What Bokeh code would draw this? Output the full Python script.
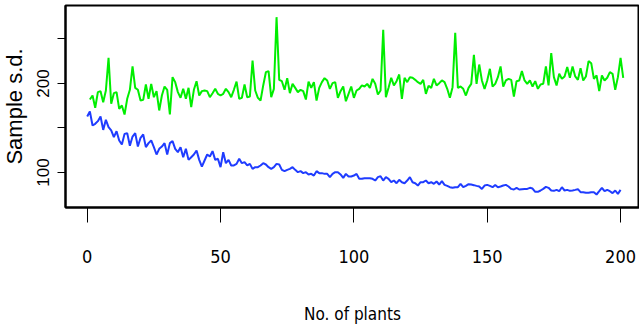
from bokeh.plotting import figure
from bokeh.models import Range1d, FixedTicker
from bokeh.embed import file_html
from bokeh.resources import INLINE

# Green series: x = 1..201
green_sd = [
    182.0, 186.5, 172.7, 190.3, 191.4, 179.0, 192.1, 228.8, 177.2, 189.1,
    190.3, 171.5, 175.3, 165.2, 182.8, 192.9, 219.1, 195.1, 192.9, 180.9,
    181.6, 198.9, 182.8, 199.6, 184.6, 191.4, 169.7, 186.5, 196.6, 192.9,
    165.2, 207.1, 201.5, 190.3, 183.9, 194.0, 182.8, 195.1, 173.4, 192.9,
    202.6, 186.5, 191.4, 192.1, 191.4, 184.6, 189.1, 194.0, 188.4, 186.5,
    188.4, 194.0, 190.3, 184.6, 192.9, 202.2, 182.8, 183.9, 198.9, 184.6,
    185.4, 225.8, 192.1, 183.9, 180.9, 197.8, 212.7, 213.9, 184.6, 194.0,
    274.5, 204.1, 202.6, 192.9, 206.0, 189.1, 199.6, 195.1, 190.3, 192.9,
    191.4, 182.0, 202.2, 195.1, 201.5, 180.9, 195.1, 201.5, 206.0, 203.4,
    194.0, 200.4, 201.5, 183.9, 191.4, 196.6, 180.1, 188.4, 196.6, 183.9,
    192.1, 194.0, 197.8, 196.6, 199.6, 195.1, 205.2, 199.6, 187.6, 192.1,
    260.3, 184.6, 195.1, 206.4, 197.8, 202.6, 210.1, 182.8, 206.4, 201.5,
    207.1, 206.4, 204.1, 201.5, 199.6, 204.1, 188.4, 197.4, 195.1, 205.2,
    197.8, 200.4, 203.4, 201.5, 194.0, 183.9, 195.9, 256.9, 195.1, 196.6,
    194.0, 186.5, 195.1, 199.6, 232.2, 199.6, 221.3, 203.4, 194.0, 203.4,
    216.5, 196.6, 199.6, 207.1, 219.1, 196.6, 203.4, 205.2, 204.1, 185.4,
    202.6, 203.4, 213.9, 203.4, 199.6, 203.4, 196.6, 202.6, 194.0, 198.9,
    199.6, 219.1, 197.8, 234.1, 207.1, 197.8, 210.9, 205.2, 207.9, 218.4,
    206.4, 219.1, 207.9, 204.1, 217.2, 203.4, 207.9, 225.1, 222.8, 205.2,
    209.0, 191.4, 209.0, 203.4, 206.4, 212.7, 210.9, 192.9, 207.1, 228.8,
    206.4,
]
green_x = list(range(1, len(green_sd) + 1))

# Blue series: x = 0..200
blue_sd = [
    162.9, 168.5, 152.8, 154.7, 157.7, 162.9, 147.9, 159.2, 150.9, 147.2,
    139.7, 146.4, 136.0, 131.5, 143.4, 144.2, 130.0, 140.4, 144.2, 129.2,
    139.0, 142.7, 128.5, 133.0, 136.0, 128.5, 120.2, 126.6, 129.2, 133.0,
    120.2, 133.0, 135.2, 126.6, 122.8, 128.5, 117.2, 126.6, 114.2, 117.2,
    120.2, 124.7, 114.2, 106.7, 113.5, 120.2, 118.0, 124.0, 114.2, 115.4,
    106.0, 122.8, 110.5, 114.2, 107.9, 107.9, 109.7, 115.4, 110.5, 111.6,
    107.9, 109.7, 104.1, 106.0, 106.0, 107.9, 110.5, 109.0, 106.0, 104.1,
    106.0, 109.7, 109.0, 103.0, 101.5, 103.0, 104.1, 106.0, 103.0, 100.4,
    101.5, 99.3, 100.4, 97.8, 98.5, 96.6, 101.5, 99.3, 99.3, 98.5,
    98.5, 94.8, 98.5, 100.4, 100.4, 97.8, 94.0, 98.5, 95.5, 95.5,
    96.6, 98.5, 92.9, 92.9, 93.6, 93.6, 93.6, 92.9, 91.0, 94.8,
    95.9, 91.0, 94.8, 92.9, 89.1, 91.0, 88.0, 91.8, 89.1, 88.0,
    91.0, 94.8, 89.1, 88.0, 85.4, 89.1, 89.1, 91.0, 88.0,
    89.1, 87.3, 89.9, 86.5, 90.3, 86.1, 85.0, 83.5, 82.8, 83.5, 83.5,
    87.3, 83.5, 85.0, 86.9, 86.5, 85.8, 85.0, 84.3, 81.6, 85.4,
    86.1, 85.0, 83.5, 86.1, 83.5, 84.3, 85.4, 86.1, 84.3, 81.6,
    80.9, 82.8, 80.9, 81.3, 81.6, 81.6, 82.8, 82.0, 78.3, 78.3,
    79.8, 81.6, 83.9, 82.8, 79.8, 79.4, 80.5, 79.0, 83.5, 79.8,
    80.5, 79.4, 79.8, 80.5, 81.3, 77.9, 77.9, 77.2, 77.2, 77.9,
    77.9, 75.3, 79.0, 82.8, 79.0, 80.5, 79.0, 76.8, 79.8, 76.0, 80.5,
]
blue_x = list(range(0, len(blue_sd)))

x_ticks = [0, 50, 100, 150, 200]
y_ticks = [100, 150, 200, 250]
y_tick_labels = {100: "100", 150: "", 200: "200", 250: ""}

NARROW = "Liberation Sans Narrow, DejaVu Sans Condensed, Liberation Sans, sans-serif"

p = figure(
    width=642, height=329,
    output_backend="svg", toolbar_location=None,
    x_range=Range1d(-8.14, 207.1), y_range=Range1d(60.7, 287.6),
    min_border_left=68, min_border_right=0, min_border_top=5, min_border_bottom=122,
    background_fill_color="white", border_fill_color="white",
)
p.margin = (0, 0, 0, -3)
p.grid.visible = False
p.outline_line_color = "black"
p.outline_line_width = 2

p.line(green_x, green_sd, line_color="#00ee00", line_width=2)
p.line(blue_x, blue_sd, line_color="#1f3cff", line_width=2)

xa = p.xaxis[0]
xa.ticker = FixedTicker(ticks=x_ticks)
xa.minor_tick_line_color = None
xa.major_tick_in = 0
xa.major_tick_out = 15
xa.major_tick_line_width = 1
xa.axis_line_width = 2
xa.major_label_standoff = 27
xa.major_label_text_font = NARROW
xa.major_label_text_font_size = "18px"
xa.major_label_text_color = "black"
xa.axis_label = "No. of plants"
xa.axis_label_text_font = NARROW
xa.axis_label_text_font_size = "17px"
xa.axis_label_text_font_style = "normal"
xa.axis_label_text_color = "black"
xa.axis_label_standoff = 38

ya = p.yaxis[0]
ya.ticker = FixedTicker(ticks=y_ticks)
ya.major_label_overrides = y_tick_labels
ya.minor_tick_line_color = None
ya.major_tick_in = 0
ya.major_tick_out = 8
ya.major_tick_line_width = 1
ya.axis_line_width = 2
ya.major_label_orientation = "vertical"
ya.major_label_standoff = 8
ya.major_label_text_font = "Liberation Sans"
ya.major_label_text_font_size = "17px"
ya.major_label_text_color = "black"
ya.axis_label = "Sample s.d."
ya.axis_label_text_font = "Liberation Sans"
ya.axis_label_text_font_size = "22px"
ya.axis_label_text_font_style = "normal"
ya.axis_label_text_color = "black"
ya.axis_label_standoff = 8

open("out.html", "w").write(file_html(p, INLINE))
